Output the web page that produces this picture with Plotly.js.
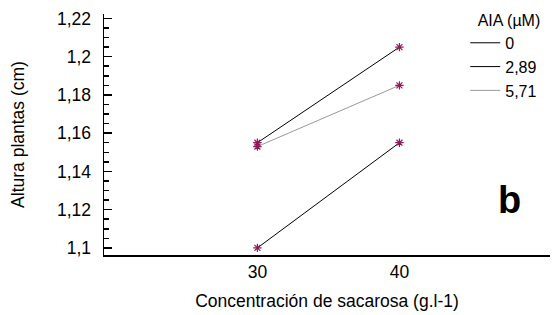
<!DOCTYPE html>
<html>
<head>
<meta charset="utf-8">
<script src="https://cdn.plot.ly/plotly-3.0.1.min.js"></script>
<style>html,body{margin:0;padding:0;background:#fff;}#chart{width:555px;height:315px;}</style>
</head>
<body>
<div id="chart"></div>
<script>
var sacarosa = [30, 40];
var seriesNames = ['0', '2,89', '5,71'];
var aia0 = [1.100, 1.155];
var aia289 = [1.155, 1.205];
var aia571 = [1.153, 1.185];
var yTickVals = [1.1, 1.12, 1.14, 1.16, 1.18, 1.2, 1.22];
var yTickText = ['1,1', '1,12', '1,14', '1,16', '1,18', '1,2', '1,22'];
var xTickVals = [30, 40];
var xTickText = ['30', '40'];

var seriesData = [aia0, aia289, aia571];
var lineColors = ['#000000', '#000000', '#999999'];
var markerColor = '#8e1b5c';
var font = 'Liberation Sans, Arial, sans-serif';

var traces = [];
seriesData.forEach(function (ys, i) {
  traces.push({
    x: sacarosa, y: ys, type: 'scatter', mode: 'lines',
    name: seriesNames[i],
    line: {color: lineColors[i], width: 1}
  });
});
seriesData.forEach(function (ys, i) {
  traces.push({
    x: sacarosa, y: ys, type: 'scatter', mode: 'markers',
    showlegend: false, hoverinfo: 'skip',
    marker: {symbol: 'asterisk-open', size: 7, color: markerColor,
             line: {color: markerColor, width: 1.2}}
  });
});

var layout = {
  width: 555, height: 315,
  margin: {l: 104, r: 5, t: 14, b: 60},
  paper_bgcolor: '#fff', plot_bgcolor: '#fff',
  font: {family: font, color: '#000', size: 17},
  showlegend: true,
  xaxis: {
    range: [19.2, 50.6],
    tickvals: xTickVals, ticktext: xTickText,
    ticks: '', showgrid: false, zeroline: false,
    showline: true, linecolor: '#000', linewidth: 1.5,
    tickfont: {size: 17.5},
    title: {text: 'Concentración de sacarosa (g.l-1)', font: {size: 17.5}, standoff: 14}
  },
  yaxis: {
    range: [1.0963, 1.2223],
    tickvals: yTickVals, ticktext: yTickText,
    ticks: 'inside', ticklen: 8, tickwidth: 1.5, tickcolor: '#000',
    minor: {dtick: 0.005, tick0: 1.1, ticks: 'inside', ticklen: 5, tickwidth: 1.5, tickcolor: '#000', showgrid: false},
    ticklabelstandoff: 8,
    showgrid: false, zeroline: false,
    showline: true, linecolor: '#000', linewidth: 1.5,
    tickfont: {size: 17.5},
    title: {text: 'Altura plantas (cm)', font: {size: 17.5}, standoff: 28}
  },
  legend: {
    x: 0.81, y: 1.037, xanchor: 'left', yanchor: 'top',
    bgcolor: 'rgba(0,0,0,0)', borderwidth: 0,
    font: {size: 16},
    itemwidth: 30,
    title: {text: 'AIA (µM)', font: {size: 16}, side: 'top right'}
  },
  annotations: [{
    text: '<b>b</b>', xref: 'paper', yref: 'paper',
    x: 0.91, y: 0.228, xanchor: 'center', yanchor: 'middle',
    showarrow: false, font: {size: 38, family: font, color: '#000'}
  }]
};

Plotly.newPlot('chart', traces, layout, {displayModeBar: false, staticPlot: true});
</script>
</body>
</html>
